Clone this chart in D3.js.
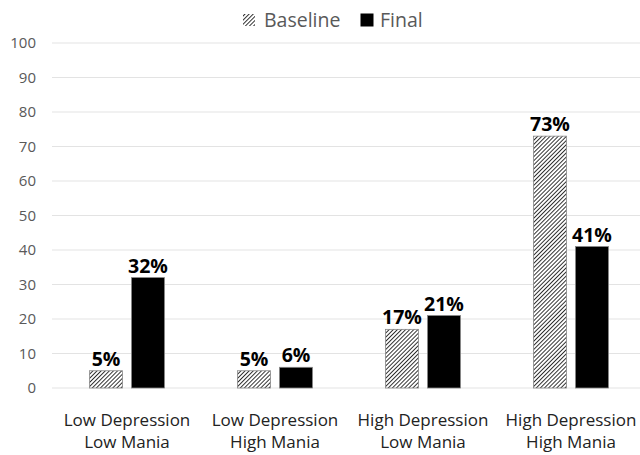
<!DOCTYPE html>
<html><head><meta charset="utf-8">
<script src="https://cdn.jsdelivr.net/npm/d3@7"></script>
<style>body{margin:0;background:#fff}svg{display:block}</style>
</head><body>
<script>
const categories = [["Low Depression","Low Mania"],["Low Depression","High Mania"],["High Depression","Low Mania"],["High Depression","High Mania"]];
const seriesNames = ["Baseline","Final"];
const baseline = [5,5,17,73];
const finalVals = [32,6,21,41];
const yTicks = [0,10,20,30,40,50,60,70,80,90,100];

const W=640,H=455;
const svg=d3.select("body").append("svg").attr("width",W).attr("height",H);
const defs=svg.append("defs");
const pat=defs.append("pattern").attr("id","hatch").attr("patternUnits","userSpaceOnUse")
  .attr("width",2.9).attr("height",2.9).attr("patternTransform","rotate(45)");
pat.append("rect").attr("width",2.9).attr("height",2.9).attr("fill","#fff");
pat.append("line").attr("x1",0).attr("y1",0).attr("x2",0).attr("y2",2.9).attr("stroke","#111").attr("stroke-width",1.7);

const font="'Open Sans', Lato, sans-serif";
const y=d3.scaleLinear().domain([0,100]).range([388,43]);
const x0=d3.scaleBand().domain(d3.range(categories.length)).range([53,645]);
const x1=d3.scaleBand().domain(seriesNames).range([36.5,111.5]).paddingInner(0.214);

// gridlines
svg.append("g").selectAll("line").data(yTicks).join("line")
  .attr("x1",52).attr("x2",640).attr("y1",d=>y(d)).attr("y2",d=>y(d))
  .attr("stroke","#e3e3e3").attr("stroke-width",1);

// y axis labels
const yAxis=svg.append("g").attr("transform","translate(44,0)")
  .call(d3.axisLeft(y).tickValues(yTicks).tickSize(0).tickPadding(8));
yAxis.select(".domain").remove();
yAxis.selectAll("text").attr("font-family",font).attr("font-size",15).attr("fill","#595959");

const data=categories.map((c,i)=>({i,vals:[{s:"Baseline",v:baseline[i]},{s:"Final",v:finalVals[i]}]}));
const g=svg.append("g").selectAll("g").data(data).join("g").attr("transform",d=>`translate(${x0(d.i)},0)`);
g.selectAll("rect").data(d=>d.vals).join("rect")
  .attr("x",d=>x1(d.s)).attr("width",x1.bandwidth())
  .attr("y",d=>y(d.v)).attr("height",d=>y(0)-y(d.v))
  .attr("fill",d=>d.s==="Baseline"?"url(#hatch)":"#000")
  .attr("stroke","#888").attr("stroke-width",0.8);
g.selectAll("text").data(d=>d.vals).join("text")
  .attr("x",d=>x1(d.s)+x1.bandwidth()/2).attr("y",d=>y(d.v)-5)
  .attr("text-anchor","middle").attr("font-family",font).attr("font-weight","bold")
  .attr("font-size",19.5).attr("fill","#000").text(d=>d.v+"%");

// x labels
const xl=svg.append("g").selectAll("text").data(categories).join("text")
  .attr("text-anchor","middle").attr("font-family",font).attr("font-size",17).attr("fill","#222")
  .attr("x",(d,i)=>x0(i)+x0.bandwidth()/2);
xl.selectAll("tspan").data(d=>d).join("tspan")
  .attr("x",function(){return d3.select(this.parentNode).attr("x");})
  .attr("y",(d,j)=>426+j*22).text(d=>d);

// legend
const leg=svg.append("g");
const legX=[243,361];
seriesNames.forEach((s,k)=>{
  leg.append("rect").attr("x",legX[k]).attr("y",14).attr("width",12).attr("height",12)
    .attr("fill",k===0?"url(#hatch)":"#000").attr("stroke",k===0?"none":"#000");
  leg.append("text").attr("x",legX[k]+(k===0?21:19)).attr("y",27).attr("font-family",font)
    .attr("font-size",19.5).attr("fill","#595959").text(s);
});
</script>
</body></html>
